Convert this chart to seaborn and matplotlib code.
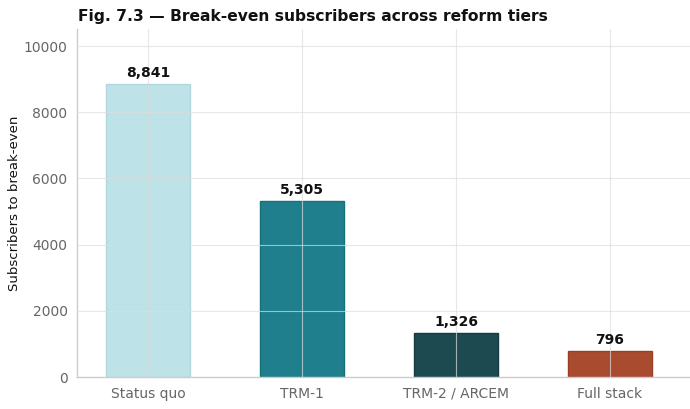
import matplotlib
matplotlib.use("Agg")
import matplotlib.pyplot as plt
import seaborn as sns
import pandas as pd

categories = ["Status quo", "TRM-1", "TRM-2 / ARCEM", "Full stack"]
subscribers = [8841, 5305, 1326, 796]
colors = ["#BDE2E7", "#1F7F8C", "#1C4A50", "#A84B2F"]
edges = ["#B0D8DE", "#16707C", "#143C41", "#9A3F26"]

sns.set_theme(style="white")
plt.rcParams['font.family'] = ['DejaVu Sans']

df = pd.DataFrame({"tier": categories, "subs": subscribers})

fig = plt.figure(figsize=(6.9, 4.09), dpi=100)
ax = fig.add_axes([0.112, 0.078, 0.888, 0.85])

sns.barplot(data=df, x="tier", y="subs", hue="tier", palette=colors,
            width=0.55, legend=False, ax=ax, saturation=1)
for p, ec in zip(ax.patches, edges):
    p.set_edgecolor(ec)
    p.set_linewidth(1.0)

ax.set_axisbelow(False)
ax.grid(True, color="#dddddd", linewidth=0.8, alpha=0.7)
ax.set_ylim(0, 10500)
ax.set_xlim(-0.46, 3.52)
ax.set_yticks([0, 2000, 4000, 6000, 8000, 10000])

for i, v in enumerate(subscribers):
    ax.text(i, v + 120, f"{v:,}", ha="center", va="bottom",
            fontsize=10, fontweight="bold", color="#111111")

ax.set_xlabel("")
ax.set_ylabel("Subscribers to break-even", fontsize=9.5, color="#111111")
ax.yaxis.set_label_coords(-0.092, 0.5)
ax.tick_params(axis="both", colors="#555555", labelsize=10, length=4,
               labelcolor="#666666", pad=3)
for s in ["top", "right"]:
    ax.spines[s].set_visible(False)
for s in ["left", "bottom"]:
    ax.spines[s].set_color("#cccccc")
    ax.spines[s].set_linewidth(1.0)

fig.text(0.113, 0.96, "Fig. 7.3 — Break-even subscribers across reform tiers",
         fontsize=11.2, fontweight="bold", color="#111111", ha="left", va="center")

fig.savefig("out.png", dpi=100)
